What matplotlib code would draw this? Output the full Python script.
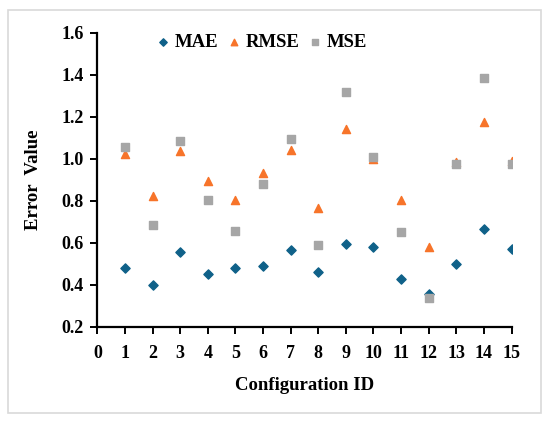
import matplotlib.pyplot as plt
from matplotlib.patches import Rectangle

# data
config_id = list(range(1, 16))
mae = [0.48, 0.40, 0.555, 0.45, 0.48, 0.49, 0.565, 0.46, 0.595, 0.58, 0.43, 0.355, 0.50, 0.665, 0.57]
rmse = [1.025, 0.825, 1.04, 0.895, 0.805, 0.935, 1.045, 0.765, 1.145, 1.00, 0.805, 0.58, 0.985, 1.175, 0.99]
mse = [1.055, 0.685, 1.085, 0.805, 0.655, 0.88, 1.095, 0.59, 1.32, 1.01, 0.65, 0.34, 0.975, 1.385, 0.975]

plt.rcParams['font.family'] = ['Liberation Serif', 'DejaVu Serif']
plt.rcParams['font.weight'] = 'bold'

fig = plt.figure(figsize=(5.5, 4.23), dpi=100)
ax = fig.add_axes([0.177, 0.227, 0.753, 0.695])

# outer light-grey frame
fig.patches.append(Rectangle((8 / 550, 1 - 413 / 423), 533 / 550, 403 / 423,
                             transform=fig.transFigure, fill=False,
                             edgecolor='#d9d9d9', linewidth=1.2))

ax.scatter(config_id, mae, marker='D', s=22, color='#0f6189', label='MAE', zorder=3)
ax.scatter(config_id, rmse, marker='^', s=34, color='#f7742a', label='RMSE', zorder=3)
ax.scatter(config_id, mse, marker='s', s=34, color='#a6a6a6', label='MSE', zorder=3)

ax.set_xlim(0, 15)
ax.set_ylim(0.2, 1.6)
ax.set_xticks(range(0, 16))
ax.set_yticks([0.2, 0.4, 0.6, 0.8, 1.0, 1.2, 1.4, 1.6])
ax.set_yticklabels(['0.2', '0.4', '0.6', '0.8', '1.0', '1.2', '1.4', '1.6'])

for s in ['top', 'right']:
    ax.spines[s].set_visible(False)
for s in ['left', 'bottom']:
    ax.spines[s].set_linewidth(1.6)
    ax.spines[s].set_color('black')
ax.spines['bottom'].set_capstyle('projecting')
ax.tick_params(axis='both', direction='out', length=5, width=1.4, labelsize=13, pad=5)
ax.tick_params(axis='x', pad=8)

ax.set_xlabel('Configuration ID', fontsize=13.5, fontweight='bold', labelpad=11)
ax.set_ylabel('Error  Value', fontsize=13.5, fontweight='bold', labelpad=14)

ax.legend(loc='upper left', bbox_to_anchor=(0.115, 1.035), ncol=3, frameon=False,
          fontsize=13.5, handlelength=0.7, handletextpad=0.3, columnspacing=0.45,
          markerscale=0.8, borderaxespad=0.2)

fig.savefig('out.png', dpi=100)
